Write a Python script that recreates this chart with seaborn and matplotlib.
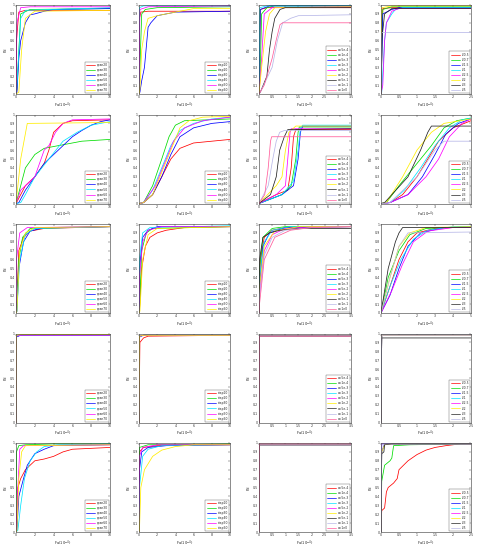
import matplotlib
matplotlib.use("Agg")
import matplotlib.pyplot as plt
import seaborn as sns
import pandas as pd

sns.set_style("white")
plt.rcParams['font.family'] = ['DejaVu Sans']

# ---------------- labels ----------------
LAB1 = ["span20", "span30", "span40", "span50", "span60", "span70"]
LAB2 = ["step10", "step20", "step30", "step40", "step50", "step60"]
LAB3 = ["σ=5e-4", "σ=1e-4", "σ=5e-3", "σ=1e-3", "σ=5e-2", "σ=1e-2", "σ=5e-1", "σ=1e-1", "σ=1e0"]
LAB4 = ["L/0.5", "L/0.7", "L/1.5", "L/1", "L/2.5", "L/2", "L/3", "L/5"]
COLORS = ["#ff0000", "#00dd00", "#0000ff", "#00e5ff", "#ff00ff", "#ffee00",
          "#222222", "#b8b8e8", "#ff5c9a"]
XMAX = [[10, 10, 3.5, 2.5],
        [10, 10, 8, 5],
        [10, 10, 3.5, 5],
        [10, 10, 3.5, 2.5],
        [10, 10, 3.5, 2.5]]

# ---------------- row 1 ----------------
r1c1 = [
    [(0, 0), (0.05, 0.6), (0.3, 0.92), (1, 0.94), (10, 0.94)],
    [(0, 0), (0.1, 0.05), (0.5, 0.9), (1.5, 0.95), (10, 0.96)],
    [(0, 0), (0.1, 0.02), (0.3, 0.4), (0.5, 0.6), (1, 0.8), (1.5, 0.89), (2, 0.9), (3, 0.93), (4, 0.95), (10, 0.96)],
    [(0, 0), (0.1, 0.1), (0.5, 0.85), (1, 0.94), (10, 0.97)],
    [(0, 0), (0.1, 0.8), (0.5, 0.97), (1.5, 0.98), (10, 0.98)],
    [(0, 0), (0.3, 0.02), (0.6, 0.5), (1, 0.85), (2, 0.93), (10, 0.94)],
]
r1c2 = [
    [(0, 0), (0.05, 0.85), (0.2, 0.92), (1, 0.93), (10, 0.93)],
    [(0, 0), (0.3, 0.9), (0.7, 0.95), (2, 0.97), (10, 0.98)],
    [(0, 0), (0.1, 0.02), (0.3, 0.15), (0.6, 0.3), (1, 0.75), (1.3, 0.8), (2, 0.88), (3, 0.9), (4, 0.92), (10, 0.93)],
    [(0, 0), (0.05, 0.97), (0.5, 0.99), (10, 0.99)],
    [(0, 0), (0.1, 0.95), (1, 0.98), (10, 0.99)],
    [(0, 0), (0.1, 0.05), (0.3, 0.5), (0.6, 0.7), (1, 0.85), (2, 0.88), (4, 0.92), (6, 0.96), (10, 0.96)],
]
r1c3 = [
    [(0, 0), (0.05, 0.95), (0.3, 0.97), (3.5, 0.97)],
    [(0, 0), (0.05, 0.3), (0.1, 0.9), (0.3, 0.97), (0.6, 0.99), (3.5, 0.99)],
    [(0, 0), (0.05, 0.95), (0.4, 0.99), (3.5, 0.99)],
    [(0, 0), (0.03, 0.97), (0.3, 0.99), (3.5, 0.99)],
    [(0, 0), (0.1, 0.4), (0.2, 0.9), (0.5, 0.97), (3.5, 0.98)],
    [(0, 0), (0.1, 0.3), (0.25, 0.7), (0.4, 0.9), (0.6, 0.97), (3.5, 0.98)],
    [(0, 0), (0.05, 0.02), (0.3, 0.2), (0.4, 0.5), (0.5, 0.7), (0.6, 0.85), (0.8, 0.95), (1, 0.97), (3.5, 0.97)],
    [(0, 0), (0.05, 0.02), (0.5, 0.3), (0.7, 0.6), (0.9, 0.8), (1.2, 0.85), (1.5, 0.88), (3.5, 0.89)],
    [(0, 0), (0.2, 0.1), (0.5, 0.4), (0.65, 0.6), (0.8, 0.78), (0.9, 0.8), (3.5, 0.8)],
]
r1c4 = [
    [(0, 0), (0.05, 0.96), (0.3, 0.97), (2.5, 0.97)],
    [(0, 0), (0.05, 0.95), (0.3, 0.98), (2.5, 0.98)],
    [(0, 0), (0.05, 0.9), (0.3, 0.95), (0.5, 0.97), (2.5, 0.97)],
    [(0, 0), (0.02, 0.02), (0.1, 0.6), (0.15, 0.8), (0.3, 0.9), (0.4, 0.95), (0.6, 0.97), (2.5, 0.97)],
    [(0, 0), (0.05, 0.1), (0.1, 0.6), (0.15, 0.8), (0.3, 0.93), (0.5, 0.96), (2.5, 0.96)],
    [(0, 0), (0.02, 0.97), (0.3, 0.99), (2.5, 0.99)],
    [(0, 0), (0.02, 0.6), (0.1, 0.9), (0.3, 0.96), (2.5, 0.96)],
    [(0, 0), (0.02, 0.69), (2.5, 0.69)],
]

# ---------------- row 2 ----------------
r2c1 = [
    [(0, 0), (0.5, 0.1), (1, 0.2), (2, 0.3), (3, 0.45), (3.5, 0.6), (4, 0.8), (5, 0.9), (6, 0.93), (10, 0.94)],
    [(0, 0), (0.5, 0.2), (1, 0.4), (2, 0.55), (3, 0.62), (5, 0.66), (7, 0.7), (10, 0.72)],
    [(0, 0), (0.3, 0.01), (1, 0.15), (2, 0.3), (3, 0.45), (4, 0.55), (5, 0.65), (6, 0.75), (7, 0.82), (8, 0.88), (9, 0.92), (10, 0.94)],
    [(0, 0), (0.5, 0.01), (1, 0.1), (2, 0.3), (3.5, 0.5), (5, 0.7), (6.5, 0.8), (8, 0.88), (10, 0.92)],
    [(0, 0), (0.5, 0.15), (2, 0.3), (3, 0.6), (3.5, 0.65), (4.2, 0.8), (5, 0.9), (6, 0.94), (10, 0.95)],
    [(0, 0), (0.5, 0.5), (1.2, 0.9), (10, 0.91)],
]
r2c2 = [
    [(0, 0), (0.5, 0.01), (1.5, 0.1), (2.5, 0.3), (3.5, 0.5), (4.5, 0.62), (6, 0.68), (10, 0.72)],
    [(0, 0), (0.5, 0.01), (1.5, 0.2), (2.5, 0.5), (3.3, 0.75), (4, 0.88), (5, 0.93), (10, 0.95)],
    [(0, 0), (0.5, 0.01), (1.5, 0.1), (2.5, 0.3), (3.5, 0.55), (4.5, 0.75), (6, 0.85), (8, 0.9), (10, 0.92)],
    [(0, 0), (0.5, 0.01), (1.5, 0.15), (2.5, 0.4), (3.5, 0.65), (4.5, 0.82), (6, 0.9), (8, 0.95), (10, 0.97)],
    [(0, 0), (0.5, 0.01), (1.8, 0.2), (2.8, 0.45), (3.8, 0.7), (5, 0.85), (7, 0.93), (10, 0.97)],
    [(0, 0), (0.5, 0.01), (1.5, 0.1), (2.5, 0.35), (3.5, 0.6), (4.5, 0.85), (5.5, 0.93), (7, 0.97), (10, 0.98)],
]
r2c3 = [
    [(0, 0), (1.5, 0.1), (2.5, 0.15), (2.8, 0.4), (3, 0.75), (3.2, 0.83), (8, 0.83)],
    [(0, 0), (2, 0.1), (2.8, 0.2), (3.2, 0.5), (3.4, 0.8), (3.5, 0.86), (8, 0.86)],
    [(0, 0), (2, 0.1), (3, 0.2), (3.4, 0.5), (3.6, 0.8), (3.8, 0.87), (8, 0.87)],
    [(0, 0), (2, 0.1), (3, 0.25), (3.4, 0.6), (3.6, 0.85), (3.8, 0.88), (8, 0.88)],
    [(0, 0), (1.5, 0.1), (2.3, 0.2), (2.5, 0.5), (2.7, 0.8), (2.8, 0.84), (8, 0.84)],
    [(0, 0), (1.5, 0.2), (2, 0.3), (2.3, 0.6), (2.6, 0.8), (3.2, 0.87), (8, 0.87)],
    [(0, 0), (1, 0.1), (1.5, 0.3), (1.8, 0.6), (2.2, 0.75), (2.5, 0.83), (8, 0.84)],
    [(0, 0), (0.8, 0.2), (1.2, 0.5), (1.5, 0.7), (1.8, 0.8), (2.2, 0.82), (8, 0.82)],
    [(0, 0), (0.5, 0.1), (0.8, 0.4), (1, 0.7), (1.1, 0.75), (8, 0.75)],
]
r2c4 = [
    [(0, 0), (0.5, 0.01), (1.2, 0.1), (2, 0.3), (2.6, 0.5), (3.2, 0.7), (4, 0.85), (5, 0.93)],
    [(0, 0), (0.3, 0.01), (1, 0.2), (2, 0.45), (2.8, 0.65), (3.5, 0.85), (4.2, 0.93), (5, 0.96)],
    [(0, 0), (0.5, 0.01), (1.5, 0.1), (2.3, 0.3), (3, 0.55), (3.6, 0.78), (4.3, 0.9), (5, 0.95)],
    [(0, 0), (0.5, 0.01), (1.3, 0.15), (2.2, 0.4), (3, 0.65), (3.8, 0.85), (4.5, 0.94), (5, 0.96)],
    [(0, 0), (0.5, 0.01), (1.5, 0.1), (2.5, 0.3), (3.2, 0.5), (3.8, 0.75), (4.5, 0.9), (5, 0.95)],
    [(0, 0), (0.3, 0.01), (1.2, 0.3), (2, 0.6), (2.8, 0.8), (3.5, 0.9), (5, 0.95)],
    [(0, 0), (0.2, 0.01), (1.5, 0.3), (2.2, 0.6), (2.6, 0.8), (2.8, 0.87), (5, 0.87)],
    [(0, 0), (0.5, 0.01), (2, 0.3), (3, 0.6), (3.5, 0.7), (5, 0.7)],
]

# ---------------- row 3 ----------------
r3c1 = [
    [(0, 0), (0.05, 0.02), (0.3, 0.7), (0.8, 0.85), (1.5, 0.92), (3, 0.95), (10, 0.97)],
    [(0, 0), (0.05, 0.02), (0.3, 0.6), (0.7, 0.85), (1.5, 0.95), (10, 0.97)],
    [(0, 0), (0.1, 0.02), (0.3, 0.5), (0.8, 0.8), (1.5, 0.92), (3, 0.96), (10, 0.97)],
    [(0, 0), (0.1, 0.02), (0.4, 0.6), (1, 0.88), (2, 0.95), (10, 0.97)],
    [(0, 0), (0.05, 0.6), (0.4, 0.9), (1.2, 0.96), (10, 0.97)],
    [(0, 0), (0.1, 0.02), (0.4, 0.7), (1, 0.9), (2, 0.96), (10, 0.97)],
]
r3c2 = [
    [(0, 0), (0.05, 0.02), (0.3, 0.5), (0.7, 0.75), (1.2, 0.85), (2, 0.9), (3, 0.93), (5, 0.96), (10, 0.97)],
    [(0, 0), (0.05, 0.02), (0.3, 0.7), (0.8, 0.9), (1.5, 0.95), (10, 0.97)],
    [(0, 0), (0.05, 0.5), (0.4, 0.85), (1, 0.93), (2, 0.97), (10, 0.97)],
    [(0, 0), (0.05, 0.6), (0.4, 0.9), (1.2, 0.96), (10, 0.98)],
    [(0, 0), (0.05, 0.4), (0.4, 0.8), (1, 0.93), (2.5, 0.97), (10, 0.97)],
    [(0, 0), (0.1, 0.02), (0.4, 0.6), (1, 0.88), (2, 0.95), (10, 0.97)],
]
r3c3 = [
    [(0, 0), (0.05, 0.6), (0.2, 0.85), (0.5, 0.93), (1, 0.96), (3.5, 0.97)],
    [(0, 0), (0.02, 0.5), (0.15, 0.85), (0.5, 0.95), (1, 0.97), (3.5, 0.97)],
    [(0, 0), (0.02, 0.3), (0.15, 0.75), (0.4, 0.9), (1, 0.96), (3.5, 0.97)],
    [(0, 0), (0.02, 0.4), (0.2, 0.8), (0.5, 0.93), (1.2, 0.97), (3.5, 0.97)],
    [(0, 0), (0.02, 0.2), (0.2, 0.7), (0.5, 0.88), (1, 0.95), (2, 0.97), (3.5, 0.97)],
    [(0, 0), (0.02, 0.3), (0.2, 0.75), (0.6, 0.92), (1.5, 0.97), (3.5, 0.97)],
    [(0, 0), (0.02, 0.6), (0.15, 0.85), (0.4, 0.9), (0.8, 0.93), (1.5, 0.95), (3.5, 0.95)],
    [(0, 0), (0.02, 0.2), (0.2, 0.65), (0.5, 0.85), (1, 0.93), (2, 0.96), (3.5, 0.97)],
    [(0, 0), (0.02, 0.1), (0.2, 0.6), (0.6, 0.85), (1.2, 0.93), (2, 0.96), (3.5, 0.97)],
]
r3c4 = [
    [(0, 0), (0.5, 0.3), (1, 0.6), (1.5, 0.8), (2, 0.9), (3, 0.95), (5, 0.97)],
    [(0, 0), (0.4, 0.4), (1, 0.7), (1.6, 0.88), (2.5, 0.95), (5, 0.97)],
    [(0, 0), (0.5, 0.2), (1, 0.5), (1.5, 0.75), (2.2, 0.9), (3.5, 0.96), (5, 0.97)],
    [(0, 0), (0.5, 0.3), (1.1, 0.6), (1.8, 0.83), (2.6, 0.93), (4, 0.97), (5, 0.97)],
    [(0, 0), (0.6, 0.25), (1.2, 0.55), (1.8, 0.8), (2.6, 0.92), (4, 0.96), (5, 0.96)],
    [(0, 0), (0.5, 0.4), (1, 0.75), (1.6, 0.9), (2.5, 0.96), (5, 0.97)],
    [(0, 0), (0.4, 0.5), (0.8, 0.8), (1, 0.9), (1.2, 0.96), (5, 0.96)],
    [(0, 0), (0.5, 0.4), (1, 0.75), (1.5, 0.9), (5, 0.91)],
]

# ---------------- row 4 ----------------
r4c1 = [
    [(0, 0), (0.02, 0.97), (0.5, 0.98), (10, 0.98)],
    [(0, 0), (0.02, 0.97), (0.5, 0.98), (10, 0.98)],
    [(0, 0), (0.02, 0.96), (0.5, 0.98), (10, 0.98)],
    [(0, 0), (0.02, 0.97), (0.5, 0.98), (10, 0.98)],
    [(0, 0), (0.02, 0.97), (0.5, 0.98), (10, 0.98)],
    [(0, 0), (0.02, 0.98), (0.5, 0.99), (10, 0.99)],
]
r4c2 = [
    [(0, 0), (0.1, 0.9), (0.5, 0.95), (1, 0.97), (10, 0.98)],
    [(0, 0), (0.05, 0.97), (0.5, 0.98), (10, 0.98)],
    [(0, 0), (0.05, 0.96), (0.5, 0.98), (10, 0.98)],
    [(0, 0), (0.05, 0.97), (0.5, 0.98), (10, 0.98)],
    [(0, 0), (0.05, 0.97), (0.5, 0.98), (10, 0.98)],
    [(0, 0), (0.05, 0.97), (0.5, 0.98), (10, 0.98)],
]
r4c3 = [
    [(0, 0), (0.02, 0.97), (3.5, 0.97)],
    [(0, 0), (0.02, 0.97), (3.5, 0.97)],
    [(0, 0), (0.02, 0.97), (3.5, 0.97)],
    [(0, 0), (0.02, 0.97), (3.5, 0.97)],
    [(0, 0), (0.02, 0.97), (3.5, 0.97)],
    [(0, 0), (0.02, 0.97), (3.5, 0.97)],
    [(0, 0), (0.02, 0.97), (3.5, 0.97)],
    [(0, 0), (0.02, 0.97), (3.5, 0.97)],
    [(0, 0), (0.02, 0.97), (3.5, 0.97)],
]
r4c4 = [
    [(0, 0), (0.02, 0.98), (2.5, 0.98)],
    [(0, 0), (0.02, 0.98), (2.5, 0.98)],
    [(0, 0), (0.02, 0.98), (2.5, 0.98)],
    [(0, 0), (0.02, 0.98), (2.5, 0.98)],
    [(0, 0), (0.02, 0.98), (2.5, 0.98)],
    [(0, 0), (0.02, 0.98), (2.5, 0.98)],
    [(0, 0), (0.02, 0.95), (2.5, 0.95)],
    [(0, 0), (0.02, 0.98), (2.5, 0.98)],
]

# ---------------- row 5 ----------------
r5c1 = [
    [(0, 0), (0.2, 0.5), (0.5, 0.6), (1, 0.7), (1.5, 0.75), (2, 0.8), (3, 0.82), (4, 0.85), (5, 0.9), (6, 0.93), (10, 0.95)],
    [(0, 0), (0.05, 0.9), (0.3, 0.97), (1, 0.98), (4, 0.99), (10, 0.99)],
    [(0, 0), (0.1, 0.02), (0.3, 0.4), (0.8, 0.6), (1.2, 0.75), (2, 0.88), (3, 0.93), (4, 0.97), (10, 0.98)],
    [(0, 0), (0.2, 0.02), (0.5, 0.3), (0.9, 0.6), (1.5, 0.8), (2.2, 0.9), (3, 0.96), (4.5, 0.98), (10, 0.99)],
    [(0, 0), (0.05, 0.1), (0.2, 0.5), (0.4, 0.93), (0.8, 0.97), (10, 0.98)],
    [(0, 0), (0.1, 0.02), (0.3, 0.6), (0.6, 0.9), (1, 0.97), (10, 0.98)],
]
r5c2 = [
    [(0, 0), (0.05, 0.9), (0.5, 0.95), (2, 0.97), (10, 0.98)],
    [(0, 0), (0.05, 0.95), (1, 0.98), (10, 0.99)],
    [(0, 0), (0.05, 0.7), (0.3, 0.9), (1, 0.95), (3, 0.97), (10, 0.98)],
    [(0, 0), (0.05, 0.5), (0.4, 0.85), (1, 0.93), (2.5, 0.97), (10, 0.98)],
    [(0, 0), (0.05, 0.85), (0.4, 0.95), (2, 0.98), (10, 0.98)],
    [(0, 0), (0.05, 0.02), (0.2, 0.5), (0.6, 0.7), (1.5, 0.85), (2.5, 0.92), (4, 0.96), (6, 0.98), (10, 0.98)],
]
r5c3 = [
    [(0, 0), (0.02, 0.98), (3.5, 0.98)],
    [(0, 0), (0.02, 0.98), (3.5, 0.98)],
    [(0, 0), (0.02, 0.98), (3.5, 0.98)],
    [(0, 0), (0.02, 0.98), (3.5, 0.98)],
    [(0, 0), (0.02, 0.98), (3.5, 0.98)],
    [(0, 0), (0.02, 0.98), (3.5, 0.98)],
    [(0, 0), (0.02, 0.98), (3.5, 0.98)],
    [(0, 0), (0.02, 0.98), (3.5, 0.98)],
    [(0, 0), (0.02, 0.99), (3.5, 0.99)],
]
r5c4 = [
    [(0, 0), (0.02, 0.24), (0.1, 0.27), (0.15, 0.45), (0.2, 0.5), (0.35, 0.55), (0.45, 0.6), (0.5, 0.7),
     (0.75, 0.8), (1, 0.87), (1.25, 0.92), (1.5, 0.95), (1.8, 0.97), (2.2, 0.99), (2.5, 0.99)],
    [(0, 0), (0.02, 0.57), (0.1, 0.75), (0.25, 0.8), (0.3, 0.83), (0.35, 0.97), (0.8, 0.98), (2.5, 0.99)],
    [(0, 0), (0.02, 0.9), (0.1, 0.99), (2.5, 0.99)],
    [(0, 0), (0.02, 0.99), (2.5, 0.99)],
    [(0, 0), (0.02, 0.99), (2.5, 0.99)],
    [(0, 0), (0.02, 0.9), (0.1, 0.98), (0.3, 0.99), (2.5, 0.99)],
    [(0, 0), (0.02, 0.88), (0.08, 0.9), (0.1, 0.98), (0.3, 0.99), (2.5, 0.99)],
    [(0, 0), (0.02, 0.99), (2.5, 0.99)],
]

PANELS = [[r1c1, r1c2, r1c3, r1c4],
          [r2c1, r2c2, r2c3, r2c4],
          [r3c1, r3c2, r3c3, r3c4],
          [r4c1, r4c2, r4c3, r4c4],
          [r5c1, r5c2, r5c3, r5c4]]
LABELS = [LAB1, LAB2, LAB3, LAB4]

# ---------------- layout (pixels) ----------------
W, H = 480, 550
LEFT = [16, 139, 259, 381]
RIGHT = [110, 230, 351, 471]
TOP0, AXH, ROWSTEP = 5, 89, 109.5

fig = plt.figure(figsize=(W / 100, H / 100), dpi=100)
FS = 2.3

for r in range(5):
    for c in range(4):
        top = TOP0 + r * ROWSTEP
        ax = fig.add_axes([LEFT[c] / W, 1 - (top + AXH) / H,
                           (RIGHT[c] - LEFT[c]) / W, AXH / H])
        series = PANELS[r][c]
        labs = LABELS[c][:len(series)]
        rows = []
        for lab, pts in zip(labs, series):
            for i, (x, y) in enumerate(pts):
                rows.append({"x": x, "y": y, "s": lab, "i": i})
        df = pd.DataFrame(rows)
        sns.lineplot(data=df, x="x", y="y", hue="s", hue_order=labs,
                     palette=COLORS[:len(labs)], estimator=None, sort=False,
                     units="s", linewidth=0.55, ax=ax, legend=True)
        xm = XMAX[r][c]
        ax.set_xlim(0, xm)
        ax.set_ylim(0, 1)
        ax.set_yticks([i / 10 for i in range(11)])
        ax.set_yticklabels(["0"] + [f"{i/10:.1f}" for i in range(1, 10)] + ["1"])
        if xm == 10:
            xt = [0, 2, 4, 6, 8, 10]
        elif xm == 8:
            xt = list(range(0, 9))
        elif xm == 5:
            xt = list(range(0, 6))
        elif xm == 3.5:
            xt = [0, 0.5, 1, 1.5, 2, 2.5, 3, 3.5]
        else:
            xt = [0, 0.5, 1, 1.5, 2, 2.5]
        ax.set_xticks(xt)
        ax.set_xticklabels([f"{v:g}" for v in xt])
        ax.tick_params(axis="both", direction="in", length=1.5, width=0.3,
                       labelsize=FS, pad=1, top=True, right=True, colors="#333333")
        for sp in ax.spines.values():
            sp.set_linewidth(0.4)
            sp.set_color("#333333")
        ax.set_xlabel("Fa(10$^{-4}$)", fontsize=FS + 0.3, labelpad=0.8)
        ax.set_ylabel("Pd", fontsize=FS + 0.3, labelpad=1)
        leg = ax.legend(loc="lower right", fontsize=FS - 0.1, frameon=True,
                        fancybox=False, edgecolor="#333333", handlelength=3.0,
                        borderpad=0.4, labelspacing=0.35, handletextpad=0.6,
                        borderaxespad=0.2)
        leg.get_frame().set_linewidth(0.3)
        for line in leg.get_lines():
            line.set_linewidth(0.5)

fig.savefig("out.png", dpi=100, facecolor="white")
